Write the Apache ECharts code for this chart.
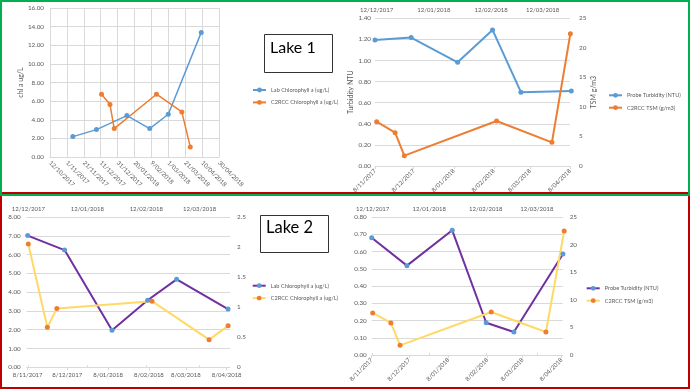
<!DOCTYPE html>
<html><head><meta charset="utf-8">
<script src="https://cdn.jsdelivr.net/npm/echarts@6.0.0/dist/echarts.min.js"></script>
<style>
html,body{margin:0;padding:0;width:690px;height:389px;overflow:hidden;background:#fff;}
.layer{position:absolute;left:0;top:0;width:690px;height:389px;}
#redBox{position:absolute;left:0;top:192px;width:690px;height:197px;box-sizing:border-box;border:2px solid #C00000;}
#greenBox{position:absolute;left:0;top:0;width:690px;height:196px;box-sizing:border-box;border:2px solid #00B050;}
</style></head>
<body>
<div id="redBox"></div><div id="greenBox"></div>
<div id="c1" class="layer"></div>
<div id="c2" class="layer"></div>
<div id="c3" class="layer"></div>
<div id="c4" class="layer"></div>
<script>
// ---------- DATA ----------
const labDates = ['2017-11-08','2017-12-06','2018-01-11','2018-02-07','2018-03-01','2018-04-09'];
const satDates = ['2017-12-12','2017-12-22','2017-12-27','2018-02-15','2018-03-17','2018-03-27'];
// Lake 1
const lake1LabChl = [2.19, 2.94, 4.45, 3.05, 4.59, 13.38];
const lake1C2Chl  = [6.74, 5.63, 3.05, 6.74, 4.84, 1.08];
const lake1Turb   = [1.195, 1.217, 0.983, 1.29, 0.70, 0.711];
const lake1TSM    = [7.5, 5.64, 1.75, 7.62, 4.0, 22.4];
// Lake 2
const lake2LabChl = [7.01, 6.24, 1.97, 3.57, 4.68, 3.10];
const lake2C2Chl  = [2.05, 0.665, 0.98, 1.10, 0.46, 0.69];
const lake2Turb   = [0.680, 0.518, 0.723, 0.187, 0.133, 0.586];
const lake2TSM    = [7.61, 5.80, 1.75, 7.79, 4.17, 22.46];
// Tick labels
const chart1Range = ['2017-10-12','2018-04-30'];  // 20-day ticks
const monthTickDates = ['2017-11-08','2017-12-08','2018-01-08','2018-02-08','2018-03-08','2018-04-08'];
const satTickDates = ['2017-12-12','2018-01-12','2018-02-12','2018-03-12'];
const names = {
  labChl:'Lab Chlorophyll a (ug/L)', c2Chl:'C2RCC Chlorophyll a (ug/L)',
  turb:'Probe Turbidity (NTU)', tsm:'C2RCC TSM (g/m3)'
};

// ---------- HELPERS ----------
const DAY = 86400000;
function dn(s){ const p=s.split('-').map(Number); return Date.UTC(p[0],p[1]-1,p[2])/DAY; }
function fmt(n){ const t=new Date(Math.round(n)*DAY);
  return t.getUTCDate()+'/'+String(t.getUTCMonth()+1).padStart(2,'0')+'/'+t.getUTCFullYear(); }
function pairs(dates, vals, base){ return dates.map((d,i)=>[dn(d)-(base||0), vals[i]]); }

const FONT='Lato', LBL='#595959', GRIDC='#D9D9D9';
const BLUE='#5B9BD5', ORANGE='#ED7D31', PURPLE='#7030A0', YELLOW='#FFD966';
const monthTicks = monthTickDates.map(dn);
const satTicks = satTickDates.map(dn);

function lbl(extra){ return Object.assign({fontSize:6.3,color:LBL,fontFamily:FONT}, extra||{}); }
function yAx(min,max,interval,dec,extra){
  return Object.assign({type:'value',min:min,max:max,interval:interval,
    axisLine:{show:false},axisTick:{show:false},
    splitLine:{show:true,lineStyle:{color:GRIDC,width:1}},
    axisLabel:lbl({margin:6,formatter:v=>dec>=0?v.toFixed(dec):String(+v.toFixed(2))}),
    nameTextStyle:{fontSize:7,color:LBL,fontFamily:FONT}}, extra||{});
}
function line(name,data,lc,mc,w,xi,yi){
  return {name:name,type:'line',data:data,xAxisIndex:xi||0,yAxisIndex:yi||0,
    symbol:'circle',symbolSize:5,clip:false,
    lineStyle:{color:lc,width:w},itemStyle:{color:mc},emphasis:{disabled:true}};
}
function legend(left,top){
  return {orient:'vertical',left:left,top:top,itemWidth:13,itemHeight:6,itemGap:6.4,itemTextGap:4,
    padding:0,textStyle:{fontSize:5.6,color:LBL,fontFamily:FONT,lineHeight:6},selectedMode:false};
}
function bottomMonthAxis(min,max,rotate,margin){
  return {type:'value',position:'bottom',min:min,max:max,
    axisLine:{show:true,onZero:false,lineStyle:{color:GRIDC}},
    axisTick:{show:true,customValues:monthTicks,length:3,lineStyle:{color:GRIDC}},
    splitLine:{show:false},
    axisLabel:lbl({customValues:monthTicks,rotate:rotate,margin:margin,fontSize:6,formatter:fmt})};
}
function topSatAxis(min,max,ticks){
  return {type:'value',position:'top',min:min,max:max,
    axisLine:{show:false},
    axisTick:{show:ticks,customValues:satTicks,length:2,lineStyle:{color:GRIDC}},
    splitLine:{show:false},
    axisLabel:lbl({customValues:satTicks,margin:5,fontSize:6,formatter:fmt})};
}
const common = {animation:false,textStyle:{fontFamily:FONT}};

// ---------- CHART 1 (Lake 1 chlorophyll) ----------
const b1 = dn(chart1Range[0]);
const c1 = echarts.init(document.getElementById('c1'),null,{renderer:'canvas'});
c1.setOption(Object.assign({}, common, {
  grid:{left:50,top:8,width:169,height:149,containLabel:false,outerBoundsMode:'none'},
  xAxis:{type:'value',min:0,max:dn(chart1Range[1])-b1,interval:20,
    axisLine:{show:true,lineStyle:{color:GRIDC}},axisTick:{show:false},
    splitLine:{show:true,lineStyle:{color:GRIDC}},
    axisLabel:lbl({rotate:-45,margin:5,fontSize:6,formatter:v=>fmt(v+b1)})},
  yAxis:yAx(0,16,2,2,{name:'chl a ug/L',nameLocation:'middle',nameGap:23.5}),
  legend:legend(252,87),
  graphic:[
    {type:'rect',shape:{x:264.5,y:34.5,width:68,height:38},style:{fill:'#fff',stroke:'#333',lineWidth:1}},
    {type:'text',x:270,y:47.5,style:{text:'Lake 1',fontSize:16,fontFamily:FONT,fill:'#000',verticalAlign:'middle'}}
  ],
  series:[
    line(names.labChl,pairs(labDates,lake1LabChl,b1),BLUE,BLUE,1.5),
    line(names.c2Chl,pairs(satDates,lake1C2Chl,b1),ORANGE,ORANGE,1.5)
  ]
}));

// ---------- CHART 2 (Lake 1 turbidity) ----------
const c2 = echarts.init(document.getElementById('c2'));
c2.setOption(Object.assign({}, common, {
  grid:{left:375,top:18.3,width:195,height:147.7,containLabel:false,outerBoundsMode:'none'},
  xAxis:[bottomMonthAxis(dn('2017-11-08'),dn('2018-04-08'),45,4),
         topSatAxis(dn('2017-12-12')-0.9,dn('2017-12-12')+104.8,false)],
  yAxis:[yAx(0,1.4,0.2,2,{name:'Turbidity NTU',nameLocation:'middle',nameGap:18.5,axisLabel:lbl({margin:4,formatter:v=>v.toFixed(2)})}),
         yAx(0,25,5,0,{position:'right',name:'TSM g/m3',nameLocation:'middle',nameGap:19.5,splitLine:{show:false},axisLabel:lbl({margin:9})})],
  legend:legend(608,92.3),
  series:[
    line(names.turb,pairs(labDates,lake1Turb),BLUE,BLUE,2,0,0),
    line(names.tsm,pairs(satDates,lake1TSM),ORANGE,ORANGE,2,1,1)
  ]
}));

// ---------- CHART 3 (Lake 2 chlorophyll) ----------
const c3 = echarts.init(document.getElementById('c3'));
c3.setOption(Object.assign({}, common, {
  grid:{left:26.7,top:217,width:203.3,height:150.3,containLabel:false,outerBoundsMode:'none'},
  xAxis:[bottomMonthAxis(dn('2017-11-08')-0.75,dn('2018-04-08')+2.5,0,5),
         topSatAxis(dn('2017-12-12')-0.84,dn('2017-12-12')+106,true)],
  yAxis:[yAx(0,8,1,2,{axisLabel:lbl({margin:6,formatter:v=>v.toFixed(2)})}),
         yAx(0,2.5,0.5,-1,{position:'right',splitLine:{show:false},axisLabel:lbl({margin:7,formatter:v=>String(+v.toFixed(2))})})],
  legend:legend(251.7,282.7),
  graphic:[
    {type:'rect',shape:{x:260.5,y:215.5,width:68,height:37},style:{fill:'#fff',stroke:'#333',lineWidth:1}},
    {type:'text',x:266,y:228,style:{text:'Lake 2',fontSize:16.5,fontFamily:FONT,fill:'#000',verticalAlign:'middle'}}
  ],
  series:[
    line(names.labChl,pairs(labDates,lake2LabChl),PURPLE,BLUE,2,0,0),
    line(names.c2Chl,pairs(satDates,lake2C2Chl),YELLOW,ORANGE,2,1,1)
  ]
}));

// ---------- CHART 4 (Lake 2 turbidity) ----------
const c4 = echarts.init(document.getElementById('c4'));
c4.setOption(Object.assign({}, common, {
  grid:{left:371.7,top:217,width:191,height:138,containLabel:false,outerBoundsMode:'none'},
  xAxis:[bottomMonthAxis(dn('2017-11-08'),dn('2018-04-08')+0.8,45,4),
         topSatAxis(dn('2017-12-12')-0.55,dn('2017-12-12')+104.2,true)],
  yAxis:[yAx(0,0.8,0.1,2,{axisLabel:lbl({margin:5,formatter:v=>v.toFixed(2)})}),
         yAx(0,25,5,0,{position:'right',splitLine:{show:false},axisLabel:lbl({margin:7})})],
  legend:legend(585.7,285.3),
  series:[
    line(names.turb,pairs(labDates,lake2Turb),PURPLE,BLUE,2,0,0),
    line(names.tsm,pairs(satDates,lake2TSM),YELLOW,ORANGE,2,1,1)
  ]
}));
</script>
</body></html>
